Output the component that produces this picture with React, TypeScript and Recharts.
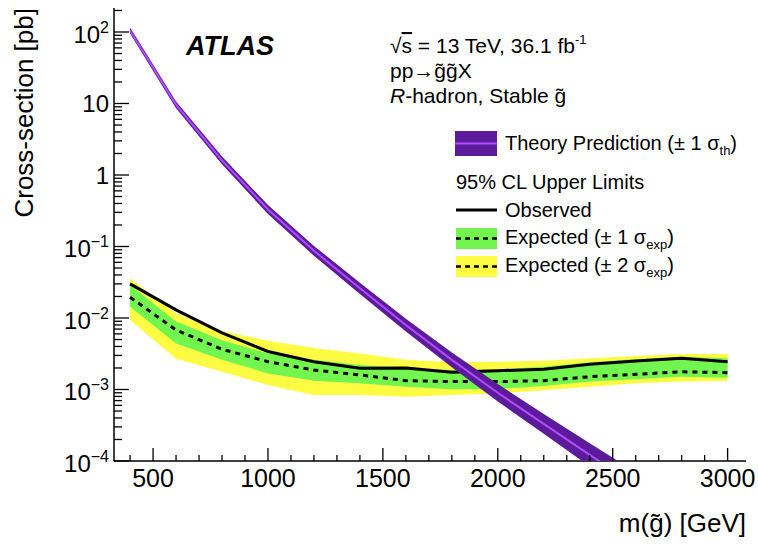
import React from "react";
import { ComposedChart, Area, Line, XAxis, YAxis } from "recharts";

// gluino mass points [GeV]
const masses = [400, 600, 800, 1000, 1200, 1400, 1600, 1800, 2000, 2200, 2400, 2600, 2800, 3000];

// 95% CL upper limits [pb]
const observed = [0.03, 0.013, 0.0062, 0.0034, 0.00245, 0.00198, 0.002, 0.00174, 0.00183, 0.00192, 0.00225, 0.00251, 0.00273, 0.00245];
const expected = [0.0195, 0.0068, 0.00365, 0.00245, 0.00187, 0.0016, 0.00133, 0.00129, 0.00129, 0.00133, 0.00151, 0.00163, 0.00177, 0.00172];
const expUp1 = [0.0289, 0.0089, 0.0049, 0.0032, 0.0026, 0.0022, 0.00198, 0.00187, 0.00192, 0.00208, 0.0024, 0.00265, 0.00288, 0.00273];
const expDown1 = [0.0144, 0.0044, 0.0026, 0.00168, 0.00133, 0.00122, 0.00109, 0.00101, 0.00102, 0.00112, 0.00129, 0.00139, 0.00151, 0.00146];
const expUp2 = [0.0359, 0.0117, 0.0066, 0.0048, 0.0038, 0.0032, 0.0026, 0.0024, 0.00245, 0.00253, 0.00273, 0.00294, 0.00314, 0.00314];
const expDown2 = [0.0094, 0.0027, 0.00177, 0.00116, 0.00084, 0.00084, 0.00079, 0.00084, 0.00088, 0.00098, 0.00109, 0.00122, 0.00129, 0.00132];

// theory cross-section [pb]
const theory = [105, 9.6, 1.6, 0.33, 0.087, 0.026, 0.008, 0.0026, 0.0009, 0.00033, 0.000122, 0.000046, 0.0000175, 0.0000068];
const theoryUp = [116, 10.7, 1.81, 0.38, 0.102, 0.0312, 0.0098, 0.0033, 0.00119, 0.000455, 0.000177, 0.00007, 0.000028, 0.0000115];
const theoryDown = [95, 8.6, 1.41, 0.285, 0.074, 0.0217, 0.0065, 0.00205, 0.00068, 0.00024, 0.000084, 0.00003, 0.000011, 0.000004];

// axis ticks
const xTicks = [400, 500, 600, 700, 800, 900, 1000, 1100, 1200, 1300, 1400, 1500, 1600, 1700, 1800, 1900, 2000, 2100, 2200, 2300, 2400, 2500, 2600, 2700, 2800, 2900, 3000];
const yDecades = [1e-4, 1e-3, 1e-2, 1e-1, 1, 10, 100];
const yDecadeBase = ["10", "10", "10", "10", "1", "10", "10"];
const yDecadeExp = ["\u22124", "\u22123", "\u22122", "\u22121", "", "", "2"];
const yMantissas = [1, 2, 3, 4, 5, 6, 7, 8, 9];
const yTicks = yDecades.flatMap((d) => yMantissas.map((m) => m * d)).filter((v) => v < 216);

const data = masses.map((m, i) => ({
  m,
  obs: observed[i],
  exp: expected[i],
  band1: [expDown1[i], expUp1[i]],
  band2: [expDown2[i], expUp2[i]],
  th: theory[i],
  thBand: [theoryDown[i], theoryUp[i]],
}));

const FONT = "'Liberation Sans', Arial, Helvetica, sans-serif";
const GREEN = "#72f54e";
const YELLOW = "#fdfc42";
const PURPLE = "#5b1b9b";
const PURPLE_LINE = "#b04cff";

const decadeIndex = (v: number) => yDecades.findIndex((d) => Math.abs(v / d - 1) < 1e-6);

function LeftTick({ x, y, payload }: any) {
  const i = decadeIndex(payload.value);
  const major = i >= 0;
  return (
    <g>
      <line x1={x} x2={x + (major ? 15 : 8)} y1={y} y2={y} stroke="#000" strokeWidth={1.3} />
      {major && (yDecadeExp[i] ? (
        <text x={x - 5} y={y + 11} textAnchor="end" fontFamily={FONT} fontSize={24} fill="#000">
          {yDecadeBase[i]}
          <tspan dy={-10} fontSize={16}>{yDecadeExp[i]}</tspan>
        </text>
      ) : (
        <text x={x - 5} y={y + 9} textAnchor="end" fontFamily={FONT} fontSize={24} fill="#000">
          {yDecadeBase[i]}
        </text>
      ))}
    </g>
  );
}

function RightTick({ x, y, payload }: any) {
  const major = decadeIndex(payload.value) >= 0;
  return <line x1={x} x2={x - (major ? 15 : 8)} y1={y} y2={y} stroke="#000" strokeWidth={1.3} />;
}

function BottomTick({ x, y, payload }: any) {
  const major = payload.value % 500 === 0;
  return (
    <g>
      <line x1={x} x2={x} y1={y} y2={y - (major ? 13 : 6)} stroke="#000" strokeWidth={1.3} />
      {major && (
        <text x={x} y={y + 26} textAnchor="middle" fontFamily={FONT} fontSize={25} fill="#000">
          {payload.value}
        </text>
      )}
    </g>
  );
}

function TopTick({ x, y, payload }: any) {
  const major = payload.value % 500 === 0;
  return <line x1={x} x2={x} y1={y} y2={y + (major ? 13 : 6)} stroke="#000" strokeWidth={1.3} />;
}

function Overlay() {
  const t = { fontFamily: FONT, fill: "#000" };
  return (
    <svg width={758} height={544} style={{ position: "absolute", left: 0, top: 0, pointerEvents: "none" }}>
      <text x={186} y={55} {...t} fontSize={27} fontWeight="bold" fontStyle="italic">ATLAS</text>
      <text x={390} y={53} {...t} fontSize={21}>
        √<tspan textDecoration="overline">s</tspan> = 13 TeV, 36.1 fb
        <tspan dy={-9} fontSize={13}>-1</tspan>
      </text>
      <text x={390} y={78} {...t} fontSize={21}>pp→g̃g̃X</text>
      <text x={390} y={103} {...t} fontSize={21}>
        <tspan fontStyle="italic">R</tspan>-hadron, Stable g̃
      </text>

      <rect x={455} y={131} width={42} height={25} fill={PURPLE} />
      <line x1={455} x2={497} y1={143.5} y2={143.5} stroke={PURPLE_LINE} strokeWidth={2} />
      <text x={505} y={150} {...t} fontSize={20}>
        Theory Prediction (± 1 σ<tspan dy={5} fontSize={13}>th</tspan><tspan dy={-5}>)</tspan>
      </text>

      <text x={456} y={189} {...t} fontSize={20}>95% CL Upper Limits</text>

      <line x1={456} x2={497} y1={210} y2={210} stroke="#000" strokeWidth={3} />
      <text x={505} y={217} {...t} fontSize={20}>Observed</text>

      <rect x={456} y={228} width={41} height={21} fill={GREEN} />
      <line x1={456} x2={497} y1={238.5} y2={238.5} stroke="#000" strokeWidth={2.5} strokeDasharray="5 4" />
      <text x={505} y={244} {...t} fontSize={20}>
        Expected (± 1 σ<tspan dy={5} fontSize={13}>exp</tspan><tspan dy={-5}>)</tspan>
      </text>

      <rect x={456} y={256} width={41} height={21} fill={YELLOW} />
      <line x1={456} x2={497} y1={266.5} y2={266.5} stroke="#000" strokeWidth={2.5} strokeDasharray="5 4" />
      <text x={505} y={272} {...t} fontSize={20}>
        Expected (± 2 σ<tspan dy={5} fontSize={13}>exp</tspan><tspan dy={-5}>)</tspan>
      </text>

      <text x={-8} y={33} transform="rotate(-90)" textAnchor="end" {...t} fontSize={26}>
        Cross-section [pb]
      </text>
      <text x={746} y={532} textAnchor="end" {...t} fontSize={26}>m(g̃) [GeV]</text>
    </svg>
  );
}

export default function App() {
  const axisLine = { stroke: "#000", strokeWidth: 1.5 };
  return (
    <div style={{ position: "absolute", left: 0, top: 0, width: 758, height: 544, background: "#fff" }}>
      <ComposedChart width={758} height={544} data={data} margin={{ top: 8, right: 12, bottom: 0, left: 0 }}>
        <XAxis
          dataKey="m"
          type="number"
          domain={[330, 3080]}
          allowDataOverflow
          ticks={xTicks}
          interval={0}
          height={83}
          tickSize={0}
          tickMargin={0}
          tickLine={false}
          axisLine={axisLine}
          tick={<BottomTick />}
        />
        <XAxis
          xAxisId="top"
          orientation="top"
          dataKey="m"
          type="number"
          domain={[330, 3080]}
          allowDataOverflow
          ticks={xTicks}
          interval={0}
          height={0}
          tickSize={0}
          tickMargin={0}
          tickLine={false}
          axisLine={axisLine}
          tick={<TopTick />}
        />
        <YAxis
          scale="log"
          type="number"
          domain={[1e-4, 216.6]}
          allowDataOverflow
          ticks={yTicks}
          interval={0}
          width={114}
          tickSize={0}
          tickMargin={0}
          tickLine={false}
          axisLine={axisLine}
          tick={<LeftTick />}
        />
        <YAxis
          yAxisId="r"
          orientation="right"
          scale="log"
          type="number"
          domain={[1e-4, 216.6]}
          allowDataOverflow
          ticks={yTicks}
          interval={0}
          width={0}
          tickSize={0}
          tickMargin={0}
          tickLine={false}
          axisLine={axisLine}
          tick={<RightTick />}
        />
        <Area dataKey="band2" type="linear" stroke="none" fill={YELLOW} fillOpacity={1} isAnimationActive={false} zIndex={100} />
        <Area dataKey="band1" type="linear" stroke="none" fill={GREEN} fillOpacity={1} isAnimationActive={false} zIndex={101} />
        <Line dataKey="obs" type="linear" stroke="#000" strokeWidth={3} dot={false} isAnimationActive={false} zIndex={400} />
        <Line dataKey="exp" type="linear" stroke="#000" strokeWidth={3} strokeDasharray="5 5" dot={false} isAnimationActive={false} zIndex={401} />
        <Area dataKey="thBand" type="linear" stroke="none" fill={PURPLE} fillOpacity={1} isAnimationActive={false} zIndex={500} />
        <Line dataKey="th" type="linear" stroke={PURPLE_LINE} strokeWidth={2} dot={false} isAnimationActive={false} zIndex={501} />
      </ComposedChart>
      <Overlay />
    </div>
  );
}
